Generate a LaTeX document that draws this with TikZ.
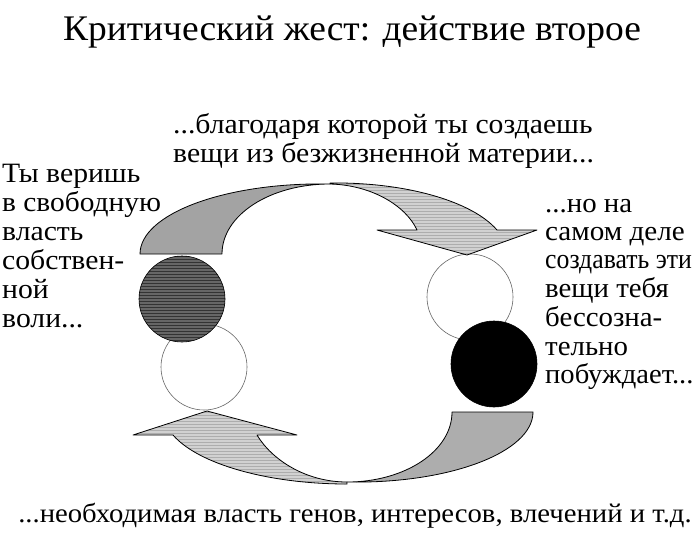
\documentclass[tikz,border=0pt]{standalone}
\usepackage{fontspec}
\setmainfont{Liberation Serif}
\usepackage{graphicx}
\usetikzlibrary{patterns}
\begin{document}
\begin{tikzpicture}[x=1pt,y=-1pt,
  txt/.style={anchor=base west,inner sep=0pt,font=\fontsize{28}{28}\selectfont},
  outl/.style={draw=black,line width=0.8pt,line join=round},
  hatch/.style={preaction={fill=#1},pattern=horizontal lines,pattern color=black!32},
  emptyc/.style={circle,draw=black!60,line width=0.6pt,minimum size=86pt,inner sep=0pt,fill=white},
  fullc/.style={circle,draw=black,line width=0.6pt,minimum size=86pt,inner sep=0pt}]
\useasboundingbox (0,0) rectangle (700,536);
\fill[white] (0,0) rectangle (700,536);

% title
\node[anchor=base,inner sep=0pt,font=\fontsize{36}{36}\selectfont] (title) at (352,40) {\scalebox{1.04}[1]{Критический жест: действие второе}};

% circles
\node[emptyc] (wl) at (204,367) {};
\node[fullc,preaction={fill=black!60},pattern=horizontal lines,pattern color=black!80] (dl) at (182,299) {};
\node[emptyc] (wr) at (470,297) {};
\node[fullc,fill=black] (br) at (494,364) {};

% top arrow, left half (tail)
\path[outl,fill=black!36] (140,254) -- (222,254)
  .. controls (222,215) and (270,184) .. (330,184)
  .. controls (225,182) and (140,214) .. (140,254) -- cycle;
% top arrow, right half (head)
\path[outl,hatch=black!18] (330,183)
  .. controls (405,182) and (472,201) .. (497,230)
  -- (537,230) -- (467,255) -- (377,230) -- (417,230)
  .. controls (406,206) and (372,185) .. (330,184) -- cycle;

% bottom arrow, right half (tail)
\path[outl,fill=black!32] (533,412) -- (452,412)
  .. controls (452,451) and (405,482) .. (347,482)
  .. controls (450,484) and (533,452) .. (533,412) -- cycle;
% bottom arrow, left half (head)
\path[outl,hatch=black!18] (347,484)
  .. controls (268,484) and (198,464) .. (173,435)
  -- (133,435) -- (207,411) -- (297,435) -- (257,435)
  .. controls (272,460) and (306,482) .. (347,482) -- cycle;

% top text
\node[txt] (t1) at (173,133) {\scalebox{1.06}[1]{...благодаря которой ты создаешь}};
\node[txt] (t2) at (173,162) {\scalebox{1.06}[1]{вещи из безжизненной материи...}};

% left text
\node[txt] (l1) at (2,182) {\scalebox{1.06}[1]{Ты веришь}};
\node[txt] (l2) at (2,211) {\scalebox{1.05}[1]{в свободную}};
\node[txt] (l3) at (2,240) {\scalebox{1.06}[1]{власть}};
\node[txt] (l4) at (2,269) {\scalebox{1.06}[1]{собствен-}};
\node[txt] (l5) at (2,298) {\scalebox{1.06}[1]{ной}};
\node[txt] (l6) at (2,327) {\scalebox{1.06}[1]{воли...}};

% right text
\node[txt] (r1) at (545,212) {\scalebox{1.03}[1]{...но на}};
\node[txt] (r2) at (545,240) {\scalebox{1.04}[1]{самом деле}};
\node[txt] (r3) at (545,268) {\scalebox{0.92}[1]{создавать эти}};
\node[txt] (r4) at (545,297) {\scalebox{1.03}[1]{вещи тебя}};
\node[txt] (r5) at (545,326) {\scalebox{1.03}[1]{бессозна-}};
\node[txt] (r6) at (545,355) {\scalebox{1.03}[1]{тельно}};
\node[txt] (r7) at (545,383) {\scalebox{1.02}[1]{побуждает...}};

% bottom text
\node[anchor=base,inner sep=0pt,font=\fontsize{27}{27}\selectfont] (bt) at (355,522) {\scalebox{1.063}[1]{...необходимая власть генов, интересов, влечений и т.д.}};
\end{tikzpicture}
\end{document}
